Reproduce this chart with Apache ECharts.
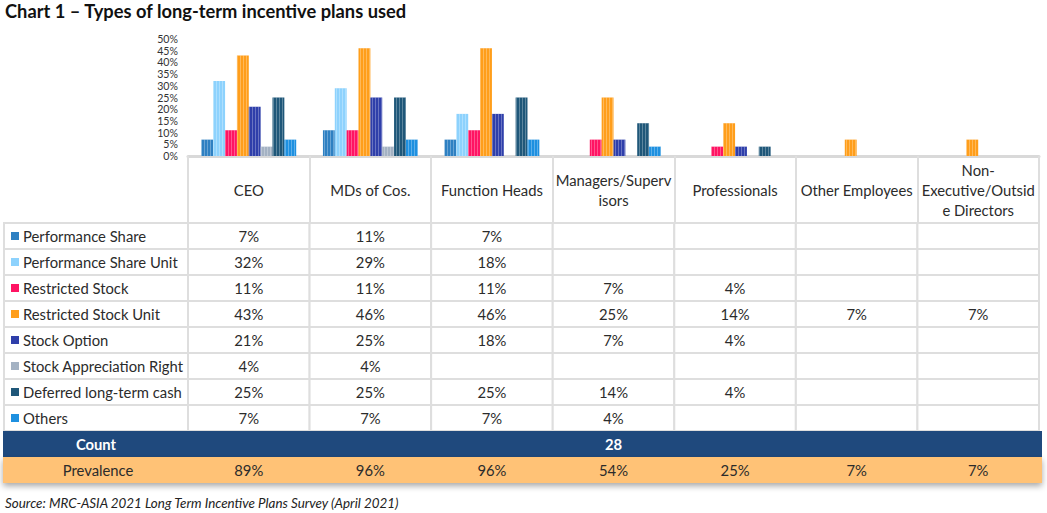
<!DOCTYPE html>
<html>
<head>
<meta charset="utf-8">
<script src="https://cdn.jsdelivr.net/npm/echarts@6/dist/echarts.min.js"></script>
<style>
html,body{margin:0;padding:0;background:#fff;}
#chart{width:1047px;height:513px;}
</style>
</head>
<body>
<div id="chart"></div>
<script>
// ---------- data ----------
const categories = ['CEO', 'MDs of Cos.', 'Function Heads', 'Managers/Supervisors', 'Professionals', 'Other Employees', 'Non-Executive/Outside Directors'];
const headerLabels = ['CEO', 'MDs of Cos.', 'Function Heads', 'Managers/Superv\nisors', 'Professionals', 'Other Employees', 'Non-\nExecutive/Outsid\ne Directors'];
const seriesNames = ['Performance Share', 'Performance Share Unit', 'Restricted Stock', 'Restricted Stock Unit', 'Stock Option', 'Stock Appreciation Right', 'Deferred long-term cash', 'Others'];
const performanceShare       = [7, 11, 7, null, null, null, null];
const performanceShareUnit   = [32, 29, 18, null, null, null, null];
const restrictedStock        = [11, 11, 11, 7, 4, null, null];
const restrictedStockUnit    = [43, 46, 46, 25, 14, 7, 7];
const stockOption            = [21, 25, 18, 7, 4, null, null];
const stockAppreciationRight = [4, 4, null, null, null, null, null];
const deferredLongTermCash   = [25, 25, 25, 14, 4, null, null];
const others                 = [7, 7, 7, 4, null, null, null];
const countValue = 28;
const prevalence = [89, 96, 96, 54, 25, 7, 7];
const extraRows = ['Count', 'Prevalence'];

const seriesValues = [performanceShare, performanceShareUnit, restrictedStock, restrictedStockUnit, stockOption, stockAppreciationRight, deferredLongTermCash, others];
const colors = ['#2E80C2', '#8DD2FD', '#FF1463', '#FF9E1B', '#2F3FAA', '#A4B2C3', '#1F5779', '#1E90E0'];

// ---------- layout / style ----------
const FONT = 'Lato, "Open Sans", sans-serif';
const TEXT = '#2b2b2b';
const BORDER = '#DEDEDE';
const CELL_FS = 14.8;
const TABLE_LEFT = 4;
const BAND_LEFT = 3;
const BAND_RIGHT_PAD = 3;

// table items
const tableItems = [];
seriesNames.forEach((name, r) => {
  tableItems.push({kind: 'label', c: 0, r: r, name: name, color: colors[r]});
  categories.forEach((cat, c) => {
    tableItems.push({kind: 'cell', c: c, r: r, v: seriesValues[r][c]});
  });
});
tableItems.push({kind: 'count', c: 0, r: seriesNames.length, v: countValue});
tableItems.push({kind: 'prevRow', c: 0, r: seriesNames.length + 1});
categories.forEach((cat, c) => {
  tableItems.push({kind: 'prev', c: c, r: seriesNames.length + 1, v: prevalence[c]});
});

function txt(text, x, y, align, opts) {
  return {
    type: 'text',
    style: Object.assign({
      text: text, x: x, y: y, align: align, verticalAlign: 'middle',
      fontSize: CELL_FS, fontFamily: FONT, fill: TEXT
    }, opts || {})
  };
}

function renderItem(params, api) {
  const t = tableItems[params.dataIndex];
  const p = api.coord([t.c, t.r]);
  const s = api.size([1, 1]);
  const w = s[0], h = s[1];
  const x = p[0] - w / 2, y = p[1] - h / 2, cx = p[0], cy = p[1];
  const children = [];
  if (t.kind === 'cell') {
    children.push({type: 'rect', shape: {x: x, y: y, width: w, height: h},
      style: {fill: '#fff', stroke: BORDER, lineWidth: 2}});
    if (t.v !== null && t.v !== undefined) children.push(txt(t.v + '%', cx, cy, 'center'));
  } else if (t.kind === 'label') {
    children.push({type: 'rect', shape: {x: TABLE_LEFT, y: y, width: x - TABLE_LEFT, height: h},
      style: {fill: '#fff', stroke: BORDER, lineWidth: 2}});
    children.push({type: 'rect', shape: {x: TABLE_LEFT + 7, y: cy - 4, width: 8, height: 8},
      style: {fill: t.color}});
    children.push(txt(t.name, TABLE_LEFT + 19, cy, 'left'));
  } else if (t.kind === 'count') {
    const last = api.coord([categories.length - 1, t.r]);
    const right = last[0] + w / 2 + BAND_RIGHT_PAD;
    children.push({type: 'rect', shape: {x: BAND_LEFT, y: y, width: right - BAND_LEFT, height: h},
      style: {fill: '#1F497D'}});
    children.push(txt('Count', (TABLE_LEFT + x) / 2, cy, 'center', {fill: '#fff', fontWeight: 'bold'}));
    children.push(txt(String(t.v), (x + last[0] + w / 2) / 2, cy, 'center', {fill: '#fff', fontWeight: 'bold'}));
  } else if (t.kind === 'prevRow') {
    const last = api.coord([categories.length - 1, t.r]);
    const right = last[0] + w / 2 + BAND_RIGHT_PAD;
    children.push({type: 'rect', shape: {x: BAND_LEFT, y: y, width: right - BAND_LEFT, height: h},
      style: {fill: '#FFC276', shadowColor: 'rgba(0,0,0,0.35)', shadowBlur: 6, shadowOffsetY: 3}});
    children.push(txt('Prevalence', (TABLE_LEFT + x) / 2 + 2, cy, 'center'));
  } else if (t.kind === 'prev') {
    children.push(txt(t.v + '%', cx, cy, 'center'));
  }
  return {type: 'group', children: children};
}

const barSeries = seriesNames.map((name, i) => ({
  name: name,
  type: 'bar',
  xAxisIndex: 0,
  yAxisIndex: 0,
  data: seriesValues[i],
  barGap: '0%',
  barCategoryGap: '22%',
  itemStyle: {
    color: colors[i],
    decal: {symbol: 'rect', symbolSize: 1, dashArrayX: [1, 2], dashArrayY: [4, 0], rotation: 0, color: 'rgba(255,255,255,0.28)'}
  }
}));

const chart = echarts.init(document.getElementById('chart'), null, {renderer: 'svg'});
chart.setOption({
  animation: false,
  backgroundColor: '#fff',
  title: [
    {text: 'Chart 1 – Types of long-term incentive plans used', left: 5, top: 2, padding: 0,
      textStyle: {fontSize: 18.3, fontWeight: 'bold', fontFamily: FONT, color: '#111'}},
    {text: 'Source: MRC-ASIA 2021 Long Term Incentive Plans Survey (April 2021)', left: 5, top: 496, padding: 0,
      textStyle: {fontSize: 13.4, fontWeight: 'normal', fontStyle: 'italic', fontFamily: FONT, color: '#222'}}
  ],
  grid: [
    {left: 188, right: 8, top: 39, height: 117},
    {left: 188, right: 8, top: 223, height: 260}
  ],
  xAxis: [
    {gridIndex: 0, type: 'category', data: categories,
      axisLine: {lineStyle: {color: '#D9D9D9', width: 3}},
      axisTick: {show: false}, axisLabel: {show: false}, splitLine: {show: false}},
    {gridIndex: 1, type: 'category', data: categories, position: 'top',
      axisLine: {lineStyle: {color: BORDER, width: 2}},
      axisTick: {show: true, length: 67, lineStyle: {color: BORDER, width: 2}},
      axisLabel: {interval: 0, margin: 33, verticalAlign: 'middle', lineHeight: 20,
        fontSize: CELL_FS, fontFamily: FONT, color: TEXT,
        formatter: function (v, i) { return headerLabels[i]; }},
      splitLine: {show: false}}
  ],
  yAxis: [
    {gridIndex: 0, type: 'value', min: 0, max: 50, interval: 5,
      axisLabel: {formatter: '{value}%', fontSize: 10.6, lineHeight: 10, fontFamily: FONT, color: '#333', margin: 10,
        showMinLabel: true, showMaxLabel: true, hideOverlap: false},
      axisLine: {show: false}, axisTick: {show: false}, splitLine: {show: false}},
    {gridIndex: 1, type: 'category', data: seriesNames.concat(extraRows), inverse: true, show: false}
  ],
  series: barSeries.concat([{
    type: 'custom',
    xAxisIndex: 1,
    yAxisIndex: 1,
    renderItem: renderItem,
    data: tableItems.map(t => [t.c, t.r]),
    silent: true,
    z: 1
  }])
});
</script>
</body>
</html>
